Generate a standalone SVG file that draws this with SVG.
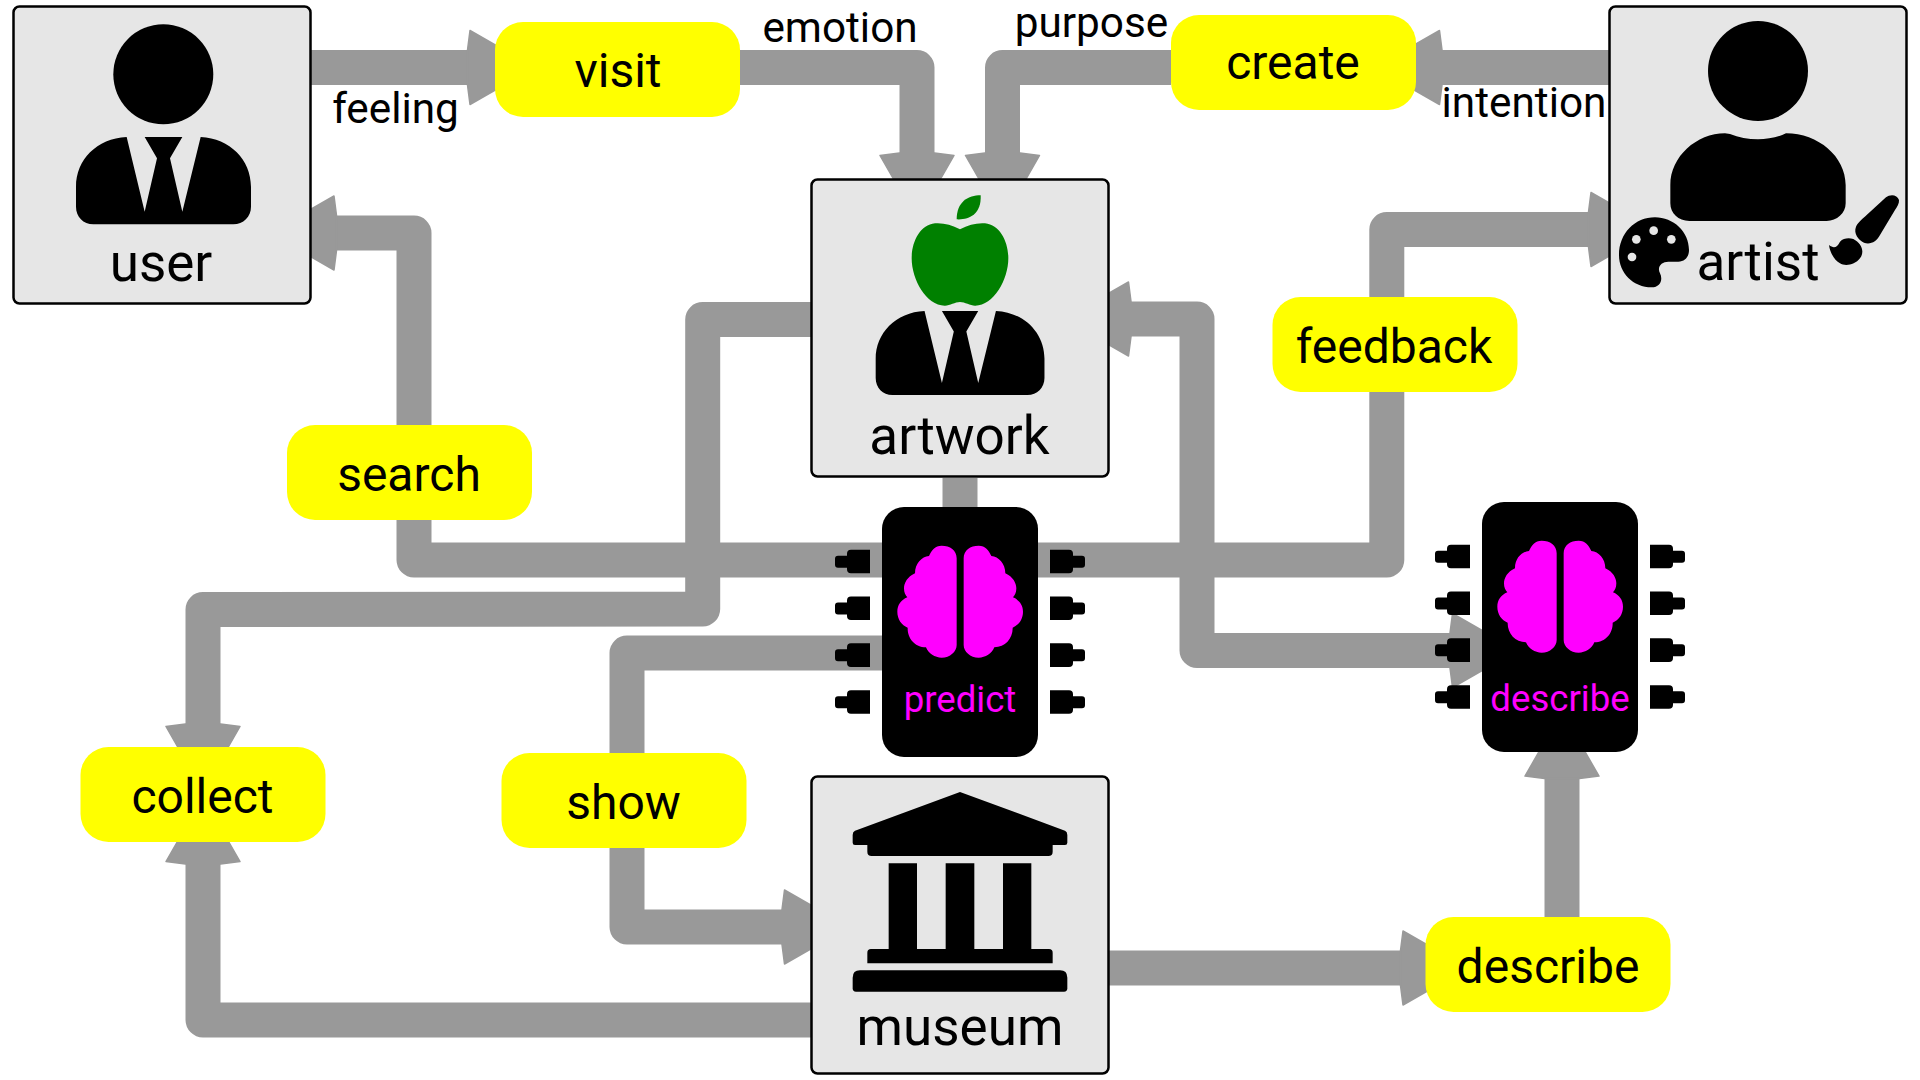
<svg xmlns="http://www.w3.org/2000/svg" width="1920" height="1080" viewBox="0 0 1920 1080">
<style>
text{font-family:Roboto,"Liberation Sans",sans-serif;fill:#000;text-anchor:middle}
.c{fill:none;stroke:#999;stroke-width:35;stroke-linejoin:round}
.a{marker-end:url(#h)}
.box{fill:#e6e6e6;stroke:#000;stroke-width:2.5}
.pill{fill:#ff0}
.nl{font-size:53px}
.pl{font-size:48px}
.el{font-size:42.300px}
.cl{font-size:36.600px;fill:#f0f}
</style>
<defs>
<marker id="h" markerUnits="userSpaceOnUse" markerWidth="80" markerHeight="80" viewBox="-3 -40 80 80" refX="0" refY="0" orient="auto-start-reverse"><path d="M-1 -17.500 1.500 -37 66 0 1.500 37 -1 17.500z" fill="#999" stroke="#999" stroke-width="1.500" stroke-linejoin="round"/></marker>
<path id="suit" d="M200 381 254 605 291 445 254 381H367L330 445 367 605 422 381C510 385 573 450 573 530V590C573 620 550 643 520 643H100C70 643 48 620 48 590V530C48 450 110 385 200 381Z"/>
<path id="hb" d="M410 175C410 150 390 137 365 137 345 137 335 150 327 168 305 170 285 190 285 220 262 230 252 250 252 265 252 278 256 285 262 292 243 300 232 315 232 335 232 358 245 375 263 383 262 415 285 442 318 442 325 460 345 473 365 473 390 473 410 455 410 435Z"/>
<g id="chip">
<rect x="882" y="507" width="156" height="250" rx="22" fill="#000"/>
<g transform="translate(820 500) scale(.33333)" fill="#f0f"><use href="#hb"/><use href="#hb" transform="matrix(-1 0 0 1 841 0)"/></g>
<g id="pl"><path d="M870 549.7H851Q847 549.7 847 553.7V555.7H838Q835 555.7 835 558.700V564.7Q835 567.700 838 567.700H847V569.300Q847 573.300 851 573.300H870Z"/><path d="M1050 549.7H1069Q1073 549.7 1073 553.7V555.7H1082Q1085 555.7 1085 558.700V564.7Q1085 567.700 1082 567.700H1073V569.300Q1073 573.300 1069 573.300H1050Z"/></g>
<use href="#pl" y="46.800"/><use href="#pl" y="93.600"/><use href="#pl" y="140.500"/>
</g>
</defs>
<g id="connectors">
<path class="c a" d="M310 67.500H468.500"/>
<path class="c a" d="M740 67.500H917V154"/>
<path class="c a" d="M1171 67.500H1002.500V154"/>
<path class="c a" d="M1609 67.500H1441"/>
<path class="c a" d="M882 560H414V233H335.500"/>
<path class="c a" d="M811 319.500H702.700V609L203 609.500V725"/>
<path class="c a" d="M811 1020H203V863"/>
<path class="c" d="M960 478V507"/>
<path class="c a" d="M1038 560H1386.800V229.500H1589.500"/>
<path class="c a" d="M882 653H627V927H783"/>
<path class="c a" d="M1109 968H1401.500"/>
<path class="c a" d="M1562 917V777.600"/>
<path class="c a" style="marker-start:url(#h)" d="M1130 319H1197V650.500H1451"/>
</g>
<g id="user">
<rect class="box" x="13.500" y="6.500" width="297" height="297" rx="6"/>
<circle cx="163.300" cy="74.300" r="50"/>
<use href="#suit" transform="translate(60 10) scale(.33333)"/>
<text class="nl" x="161" y="281">user</text>
</g>
<g id="artist">
<rect class="box" x="1609.500" y="6.500" width="297" height="297" rx="6"/>
<g transform="translate(1610 0) scale(.33333)">
<circle cx="444" cy="213" r="150"/>
<path d="M360 402C385 412 415 418 444 418 473 418 505 412 528 400 625 400 707 470 707 555V610C707 640 680 663 650 663H238C205 663 181 640 181 610V555C181 470 260 400 345 400Z"/>
<path d="M135 652C75 652 27 700 27 765 27 820 70 862 125 862 150 862 160 840 150 820 140 800 155 785 175 785H205C225 785 237 770 237 750 237 695 190 652 135 652Z"/>
<g fill="#e6e6e6"><circle cx="131" cy="692" r="13"/><circle cx="79" cy="718" r="13"/><circle cx="184" cy="718" r="13"/><circle cx="66" cy="771" r="13"/></g>
<path d="M828 592C840 582 862 583 867 600 868 610 862 620 855 630L810 705C800 725 780 735 762 728 745 720 730 700 738 680 745 665 760 655 770 645Z"/>
<path d="M657 735C670 745 680 745 690 725 700 715 715 713 730 717 755 730 765 755 750 775 735 795 705 800 690 790 675 782 660 760 657 735Z"/>
</g>
<text class="nl" x="1758" y="280">artist</text>
</g>
<g id="artwork">
<rect class="box" x="811.500" y="179.500" width="297" height="297" rx="6"/>
<g transform="translate(840 180) scale(.33333)" fill="#008000">
<path d="M360 148C385 135 410 128 435 130 480 135 505 185 505 235 505 300 460 378 405 377 390 377 375 366 360 366 345 366 330 377 315 377 260 378 215 300 215 235 215 185 240 135 285 130 310 128 335 135 360 148Z"/>
<path d="M422 46C385 46 350 65 350 118 385 120 425 105 422 46Z"/>
</g>
<use href="#suit" transform="translate(860.250 188.400) scale(.3215)"/>
<text class="nl" x="959.500" y="454">artwork</text>
</g>
<g id="museum">
<rect class="box" x="811.500" y="776.500" width="297" height="297" rx="6"/>
<g transform="translate(830 780) scale(.33333)">
<path d="M390 36 705 152Q712 155 712 165V188Q712 195 705 195H668V215Q668 228 655 228H125Q112 228 112 215V195H75Q68 195 68 188V165Q68 155 75 152Z"/>
<path d="M176 250H261V507H347V250H433V507H519V250H604V507H657Q668 507 668 518V550H112V518Q112 507 123 507H176Z"/>
<path d="M90 571H690Q712 571 712 593V625Q712 635 702 635H78Q68 635 68 625V593Q68 571 90 571Z"/>
</g>
<text class="nl" x="960" y="1045">museum</text>
</g>
<g id="predict">
<use href="#chip"/>
<text class="cl" x="960" y="712">predict</text>
</g>
<g id="describe-chip">
<use href="#chip" x="600" y="-5"/>
<text class="cl" x="1560" y="711">describe</text>
</g>
<g id="visit"><rect class="pill" x="495" y="22" width="245" height="95" rx="28"/><text class="pl" x="618" y="86.500">visit</text></g>
<g id="create"><rect class="pill" x="1171" y="15" width="245" height="95" rx="28"/><text class="pl" x="1293" y="78.500">create</text></g>
<g id="search"><rect class="pill" x="287" y="425" width="245" height="95" rx="28"/><text class="pl" x="409" y="491">search</text></g>
<g id="feedback"><rect class="pill" x="1272.500" y="297" width="245" height="95" rx="28"/><text class="pl" x="1394" y="363">feedback</text></g>
<g id="collect"><rect class="pill" x="80.500" y="747" width="245" height="95" rx="28"/><text class="pl" x="202.500" y="812.500">collect</text></g>
<g id="show"><rect class="pill" x="501.500" y="753" width="245" height="95" rx="28"/><text class="pl" x="623.500" y="818.500">show</text></g>
<g id="describe"><rect class="pill" x="1425.500" y="917" width="245" height="95" rx="28"/><text class="pl" x="1548" y="982.500">describe</text></g>
<g id="edge-labels">
<text class="el" x="395.500" y="123">feeling</text>
<text class="el" x="840" y="42">emotion</text>
<text class="el" x="1091.500" y="37">purpose</text>
<text class="el" x="1524" y="117">intention</text>
</g>
</svg>
